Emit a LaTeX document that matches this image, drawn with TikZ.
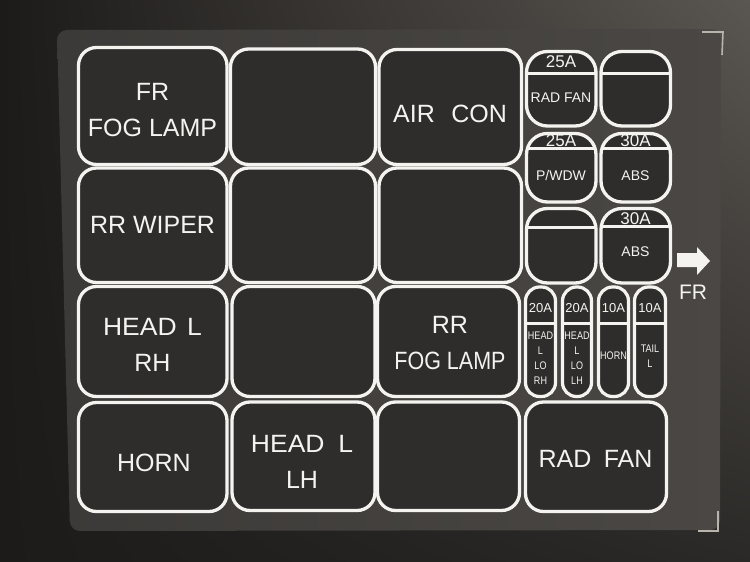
\documentclass[tikz,border=0pt]{standalone}
\usepackage{fontspec}
\usetikzlibrary{shadings}
\setmainfont{Liberation Sans}
\newfontfamily\condfont[FakeStretch=0.82]{Liberation Sans}
\newfontfamily\narrowfont[FakeStretch=0.86]{Liberation Sans}
\newfontfamily\widefont[FakeStretch=1.06]{Liberation Sans}
\definecolor{bgdark}{HTML}{1D1B1A}
\definecolor{bgmid}{HTML}{2B2927}
\definecolor{bglight}{HTML}{5A5651}
\definecolor{panelL}{HTML}{3C3A38}
\definecolor{panelR}{HTML}{4A4744}
\definecolor{cellc}{HTML}{2F2D2B}
\definecolor{ink}{HTML}{F4F3F0}
\definecolor{cornerc}{HTML}{B8B4AC}
\newcommand\boxcell[6]{%
  \pgfmathsetmacro\cwd{#5-#3}\pgfmathsetmacro\cht{#6-#4}%
  \node[#1, minimum width=\cwd pt, minimum height=\cht pt] (#2) at ({(#3+#5)/2},{(#4+#6)/2}) {};}
\begin{document}
\begin{tikzpicture}[x=1pt,y=-1pt,
  cellbox/.style={draw=ink, line width=3.3pt, fill=cellc, rounded corners=18pt, inner sep=0pt},
  smallbox/.style={draw=ink, line width=3.3pt, fill=cellc, rounded corners=21pt, inner sep=0pt},
  pill/.style={draw=ink, line width=3.2pt, fill=cellc, rounded corners=14pt, inner sep=0pt},
  hdr/.style={path picture={\draw[ink, line width=3pt]
      ([yshift=-#1pt]path picture bounding box.north west) --
      ([yshift=-#1pt]path picture bounding box.north east);}},
  biglabel/.style={text=ink, align=center, inner sep=0pt, font=\fontsize{25}{36}\selectfont},
  amp/.style={text=ink, inner sep=0pt, font=\fontsize{17}{17}\selectfont},
  fuseamp/.style={text=ink, inner sep=0pt, font=\fontsize{13}{13}\selectfont},
  smalltxt/.style={text=ink, inner sep=0pt, font=\fontsize{14}{14}\selectfont},
  fusetxt/.style={text=ink, inner sep=0pt, align=center, font=\condfont\fontsize{11}{15}\selectfont},
  cornermk/.style={draw=cornerc, line width=1.6pt}]
\useasboundingbox (0,0) rectangle (750,562);
% background
\shade[upper left=bgdark, lower left=bgdark, upper right=bglight, lower right=bgmid] (0,0) rectangle (750,562);
\shade[left color=panelL, right color=panelR, rounded corners=10pt]
  (57,30) -- (721,29) -- (720,530) -- (70,531) -- cycle;
% corner marks
\draw[cornermk] (702,32) -- (723,32) -- (722,55);
\draw[cornermk] (718,511) -- (718,531) -- (698,531);
% main cells
\boxcell{cellbox}{c11}{78.5}{47.5}{227}{164.5}
\boxcell{cellbox}{c12}{230.5}{49}{375.5}{164.5}
\boxcell{cellbox}{c13}{379}{49.5}{521.5}{164.5}
\boxcell{cellbox}{c21}{78.5}{168}{227}{282.5}
\boxcell{cellbox}{c22}{230.5}{168}{375.5}{282.5}
\boxcell{cellbox}{c23}{379}{168}{521.5}{282.5}
\boxcell{cellbox}{c31}{78.5}{286.5}{227}{396.5}
\boxcell{cellbox}{c32}{232}{286.5}{375}{396.5}
\boxcell{cellbox}{c33}{377.5}{286.5}{519.5}{396.5}
\boxcell{cellbox}{c41}{78.5}{402.5}{227}{511.5}
\boxcell{cellbox}{c42}{232}{402}{375}{510.5}
\boxcell{cellbox}{c43}{377.5}{402}{519.5}{510.5}
\boxcell{cellbox}{c44}{525.5}{402}{666.5}{511.5}
\node[biglabel] (l11) at (152.5,110) {FR\\FOG LAMP};
\node[biglabel] (l13) at (450,113.5) {AIR\hspace{0.66em}CON};
\node[biglabel] (l21) at (152.5,224.5) {RR WIPER};
\node[biglabel] (l31) at (152.5,344.5) {{\widefont HEAD\hspace{0.42em}L}\\RH};
\node[biglabel] (l33) at (450,343) {RR\\{\narrowfont FOG LAMP}};
\node[biglabel] (l41) at (154,462.5) {HORN};
\node[biglabel] (l42) at (302,461.5) {{\widefont HEAD\hspace{0.55em}L}\\LH};
\node[biglabel] (l44) at (595.5,458.5) {RAD\hspace{0.5em}FAN};
% small cells
\boxcell{smallbox,hdr=21.5}{s1a}{526.5}{51.5}{596}{126}
\boxcell{smallbox,hdr=21.5}{s1b}{601}{51.5}{670.5}{126}
\boxcell{smallbox,hdr=14.5}{s2a}{526.5}{133.5}{596}{202}
\boxcell{smallbox,hdr=14.5}{s2b}{601}{133.5}{670.5}{202}
\boxcell{smallbox,hdr=18.5}{s3a}{526.5}{208.5}{596}{283}
\boxcell{smallbox,hdr=17.5}{s3b}{601}{208.5}{670.5}{283}
\node[amp] (a1a) at (561,62) {25A};
\node[smalltxt] (t1a) at (561,97.5) {RAD FAN};
\node[amp] (a2a) at (561,141) {25A};
\node[smalltxt] (t2a) at (561,175.5) {P/WDW};
\node[amp] (a2b) at (635.5,141) {30A};
\node[smalltxt] (t2b) at (635.5,175.5) {ABS};
\node[amp] (a3b) at (635.5,218.5) {30A};
\node[smalltxt] (t3b) at (635.5,251.5) {ABS};
% fuses
\boxcell{pill,hdr=36}{f1}{525.5}{287}{555.5}{396.5}
\boxcell{pill,hdr=36}{f2}{562.5}{287}{591.5}{396.5}
\boxcell{pill,hdr=36}{f3}{598.5}{287}{628.5}{396.5}
\boxcell{pill,hdr=36}{f4}{634.5}{287}{665.5}{396.5}
\node[fuseamp] (fa1) at (540.5,308) {20A};
\node[fuseamp] (fa2) at (577,308) {20A};
\node[fuseamp] (fa3) at (613.5,308) {10A};
\node[fuseamp] (fa4) at (650,308) {10A};
\node[fusetxt] (ft1) at (540.5,358.5) {HEAD\\L\\LO\\RH};
\node[fusetxt] (ft2) at (577,358.5) {HEAD\\L\\LO\\LH};
\node[fusetxt] (ft3) at (613.5,356) {HORN};
\node[fusetxt] (ft4) at (650,356) {TAIL\\L};
% FR arrow
\fill[ink] (677,253) -- (697,253) -- (697,247) -- (710,261) -- (697,275) -- (697,267) -- (677,267) -- cycle;
\node[text=ink, inner sep=0pt, font=\fontsize{21}{21}\selectfont] (fr) at (693,292) {FR};
\end{tikzpicture}
\end{document}
